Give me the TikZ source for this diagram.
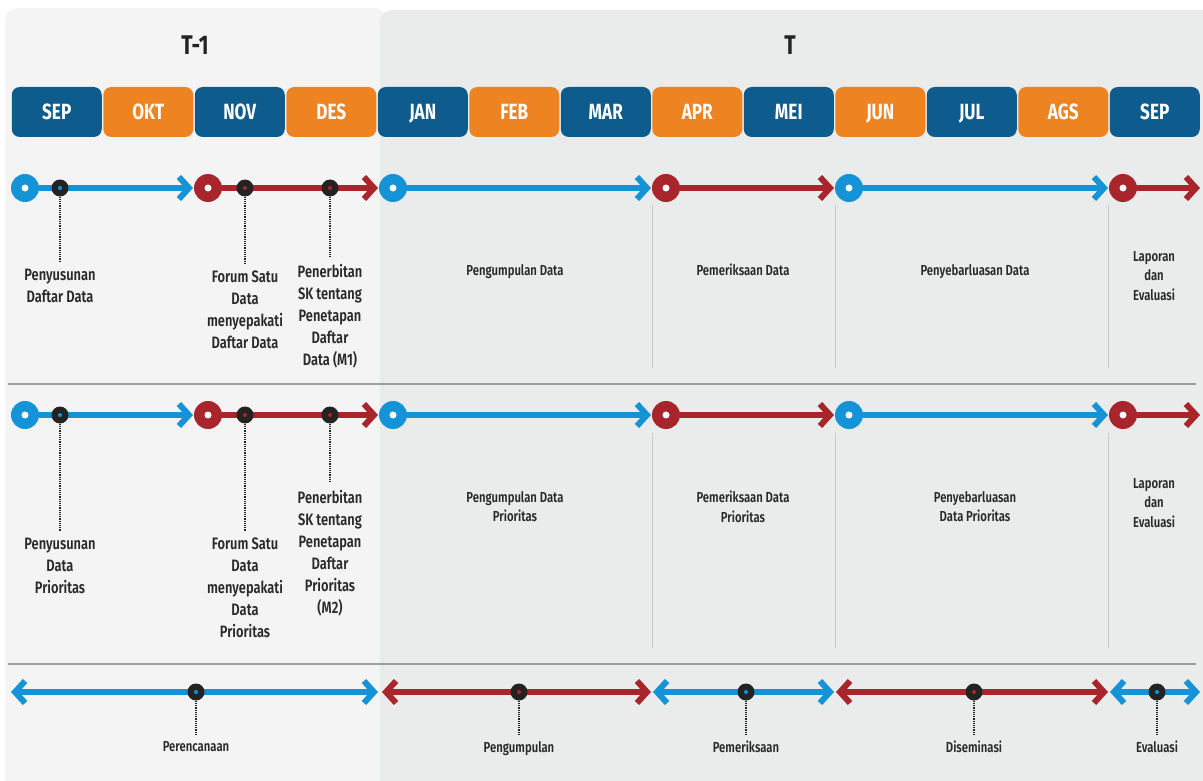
\documentclass[tikz,border=0pt]{standalone}
\usepackage{fontspec}
\setmainfont{Fira Sans}[FakeStretch=0.78, UprightFont={* SemiBold}, BoldFont={* Bold}]
\usetikzlibrary{arrows.meta,positioning}

\definecolor{navybox}{HTML}{0E5C8E}
\definecolor{orangebox}{HTML}{EE8322}
\definecolor{lineblue}{HTML}{1494D6}
\definecolor{linered}{HTML}{A8252B}
\definecolor{dotblack}{HTML}{232323}
\definecolor{panelL}{HTML}{F4F4F4}
\definecolor{panelR}{HTML}{EAEBEB}
\definecolor{txt}{HTML}{2A2A2A}
\definecolor{rule}{HTML}{9C9C9C}
\definecolor{tick}{HTML}{CACACA}

\tikzset{
    >={Straight Barb[length=10pt,width=22pt]},
    month/.style={rounded corners=8pt, minimum width=90pt, minimum height=50pt,
        inner sep=0pt, text height=15.5pt, text depth=0pt, text=white,
        font=\fontsize{22}{22}\selectfont\bfseries},
    start/.style={circle, fill=#1, minimum size=28pt, inner sep=0pt,
        path picture={\fill[white] (path picture bounding box.center) circle (3.5pt);}},
    mile/.style={circle, fill=dotblack, minimum size=17pt, inner sep=0pt,
        path picture={\fill[#1] (path picture bounding box.center) circle (2pt);}},
    seg/.style={line width=6pt, draw=#1, ->},
    lead/.style={densely dotted, line width=1.2pt, dotblack, shorten >=7pt},
    lbl/.style={align=center, text=txt, inner sep=0pt, anchor=north,
        font=\fontsize{16.5}{22}\selectfont},
    lbls/.style={lbl, font=\fontsize{14.5}{19.5}\selectfont},
}

\begin{document}
\begin{tikzpicture}[x=1pt, y=-1pt]
    \useasboundingbox (0,0) rectangle (1203,781);

    % the two years
    \fill[panelL, rounded corners=12pt] (5,8) rectangle (386,800);
    \fill[panelR, rounded corners=12pt] (380,10) rectangle (1220,800);
    \node[font=\fontsize{27}{27}\selectfont\bfseries, text=dotblack] (yprev) at (195,45) {T-1};
    \node[font=\fontsize{27}{27}\selectfont\bfseries, text=dotblack] (ycur) at (790,45) {T};

    \foreach \m [count=\i from 0] in {SEP,OKT,NOV,DES,JAN,FEB,MAR,APR,MEI,JUN,JUL,AGS,SEP} {
        \pgfmathsetmacro\mx{56.75+91.5*\i}
        \ifodd\i \def\bc{orangebox}\else \def\bc{navybox}\fi
        \node[month, fill=\bc] (mo\i) at (\mx,112) {\m};
    }

    % phase lines, rows 1 and 2
    \foreach \x in {652,835,1108} {
        \draw[tick, line width=1pt] (\x,205) -- (\x,368);
        \draw[tick, line width=1pt] (\x,433) -- (\x,648);
    }
    \foreach \r/\y in {1/188, 2/415} {
        \foreach \sx/\ex/\col/\nm in {25/193/lineblue/a, 208/378/linered/b, 393/651/lineblue/c,
                666/834/linered/d, 849/1108/lineblue/e, 1123/1200/linered/f} {
            \node[start=\col] (s\r\nm) at (\sx,\y) {};
            \coordinate (s\r\nm e) at (\ex,\y);
            \draw[seg=\col] (s\r\nm) -- (s\r\nm e);
        }
        \node[mile=lineblue] (m\r a) at (60,\y) {};
        \node[mile=linered] (m\r b) at (245,\y) {};
        \node[mile=linered] (m\r c) at (330,\y) {};
    }

    \draw[rule, line width=1.5pt] (8,384) -- (1196,384);
    \draw[rule, line width=1.5pt] (8,664) -- (1196,664);

    % row 1: daftar data
    \node[lbl] (p1a) at (60,269) {Penyusunan\\Daftar Data};
    \node[lbl] (p1b) at (245,271) {Forum Satu\\Data\\menyepakati\\Daftar Data};
    \node[lbl] (p1c) at (330,264) {Penerbitan\\SK tentang\\Penetapan\\Daftar\\Data (M1)};
    \draw[lead] (m1a) -- (p1a);
    \draw[lead] (m1b) -- (p1b);
    \draw[lead] (m1c) -- (p1c);
    \node[lbls] (p1d) at (515,264) {Pengumpulan Data};
    \node[lbls] (p1e) at (743,264) {Pemeriksaan Data};
    \node[lbls] (p1f) at (975,264) {Penyebarluasan Data};
    \node[lbls] (p1g) at (1154,251) {Laporan\\dan\\Evaluasi};

    % row 2: data prioritas
    \node[lbl] (p2a) at (60,538) {Penyusunan\\Data\\Prioritas};
    \node[lbl] (p2b) at (245,538) {Forum Satu\\Data\\menyepakati\\Data\\Prioritas};
    \node[lbl] (p2c) at (330,490) {Penerbitan\\SK tentang\\Penetapan\\Daftar\\Prioritas\\(M2)};
    \draw[lead] (m2a) -- (p2a);
    \draw[lead] (m2b) -- (p2b);
    \draw[lead] (m2c) -- (p2c);
    \node[lbls] (p2d) at (515,491) {Pengumpulan Data\\Prioritas};
    \node[lbls] (p2e) at (743,491) {Pemeriksaan Data\\Prioritas};
    \node[lbls] (p2f) at (975,491) {Penyebarluasan\\Data Prioritas};
    \node[lbls] (p2g) at (1154,478) {Laporan\\dan\\Evaluasi};

    % row 3: stages
    \foreach \sx/\ex/\mx/\col/\nm/\txt in {11/378/196/lineblue/a/Perencanaan,
            382/651/519/linered/b/Pengumpulan, 653/834/746/lineblue/c/Pemeriksaan,
            836/1108/974/linered/d/Diseminasi, 1110/1200/1157/lineblue/e/Evaluasi} {
        \coordinate (q\nm s) at (\sx,692);
        \coordinate (q\nm e) at (\ex,692);
        \draw[seg=\col, <->] (q\nm s) -- (q\nm e);
        \node[mile=\col] (q\nm m) at (\mx,692) {};
        \node[lbls] (q\nm t) at (\mx,741) {\txt};
        \draw[lead] (q\nm m) -- (q\nm t);
    }
\end{tikzpicture}
\end{document}
